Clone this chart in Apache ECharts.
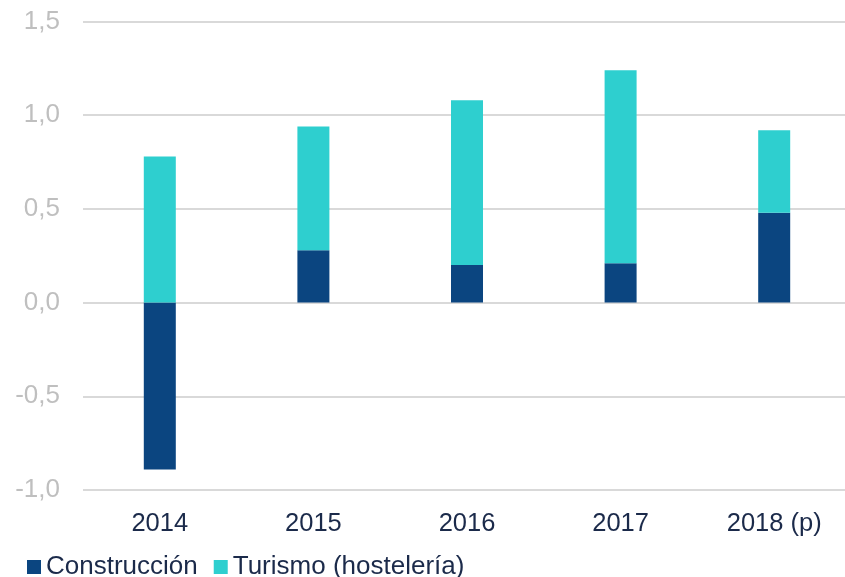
<!DOCTYPE html>
<html>
<head>
<meta charset="utf-8">
<script src="https://cdn.jsdelivr.net/npm/echarts@6/dist/echarts.min.js"></script>
<style>
html,body{margin:0;padding:0;background:#fff;overflow:hidden;width:845px;height:577px;}
#chart{width:851px;height:577px;}
</style>
</head>
<body>
<div id="chart"></div>
<script>
const categories = ['2014', '2015', '2016', '2017', '2018 (p)'];
const construccion = [-0.89, 0.28, 0.20, 0.21, 0.48];
const turismo = [0.78, 0.66, 0.88, 1.03, 0.44];
const seriesNames = ['Construcción', 'Turismo (hostelería)'];

const chart = echarts.init(document.getElementById('chart'), null, {renderer: 'canvas'});
chart.setOption({
  animation: false,
  backgroundColor: '#ffffff',
  textStyle: {fontFamily: 'Liberation Sans, Arial, sans-serif'},
  grid: {left: 83, right: 0, top: 21.5, bottom: 87, containLabel: false},
  legend: {
    left: 22, top: 549,
    itemWidth: 14, itemHeight: 14, itemGap: 16,
    icon: 'rect',
    textStyle: {fontSize: 26, color: '#1B2A4A', fontFamily: 'Liberation Sans, Arial, sans-serif'},
    data: seriesNames
  },
  xAxis: {
    type: 'category',
    data: categories,
    axisLine: {show: false, onZero: false},
    axisTick: {show: false},
    axisLabel: {fontSize: 25.5, color: '#1B2A4A', margin: 21}
  },
  yAxis: {
    type: 'value',
    min: -1, max: 1.5, interval: 0.5,
    axisLine: {show: false},
    axisTick: {show: false},
    splitLine: {lineStyle: {color: '#D9D9D9', width: 2}},
    axisLabel: {
      fontSize: 26, color: '#BFBFBF', margin: 23,
      formatter: v => v.toFixed(1).replace('.', ',')
    }
  },
  series: [
    {name: seriesNames[0], type: 'bar', stack: 'total', barWidth: 32, data: construccion,
     itemStyle: {color: '#0B4580'}},
    {name: seriesNames[1], type: 'bar', stack: 'total', barWidth: 32, data: turismo,
     itemStyle: {color: '#2ECFCF'}}
  ]
});
</script>
</body>
</html>
